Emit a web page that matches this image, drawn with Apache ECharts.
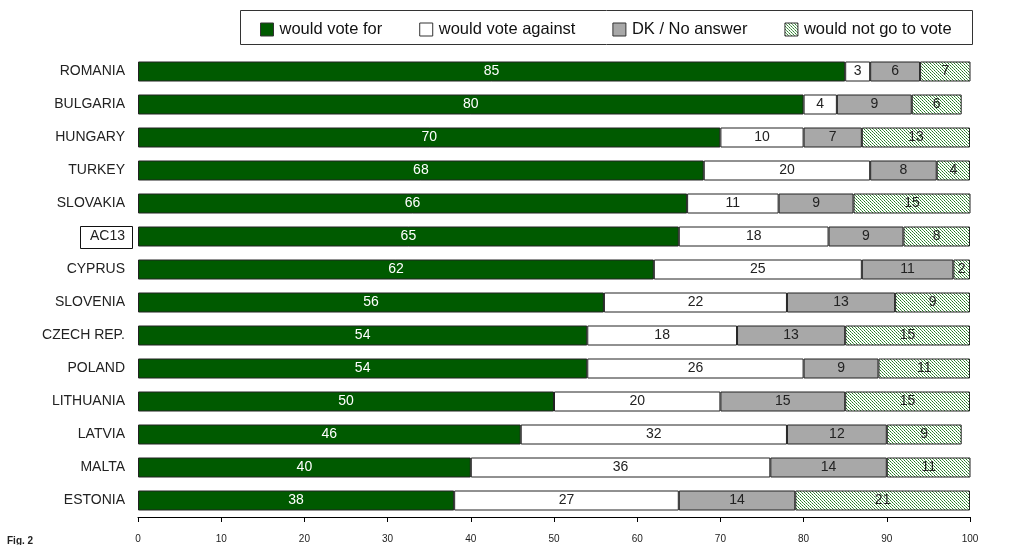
<!DOCTYPE html>
<html>
<head>
<meta charset="utf-8">
<script src="https://cdn.jsdelivr.net/npm/echarts@6/dist/echarts.min.js"></script>
<style>
  html, body { margin: 0; padding: 0; background: #fff; }
  #chart { width: 1012px; height: 545px; }
</style>
</head>
<body>
<div id="chart"></div>
<script>
// Countries, top to bottom
const countries = ['ROMANIA', 'BULGARIA', 'HUNGARY', 'TURKEY', 'SLOVAKIA', 'AC13', 'CYPRUS',
  'SLOVENIA', 'CZECH REP.', 'POLAND', 'LITHUANIA', 'LATVIA', 'MALTA', 'ESTONIA'];

// Shares of respondents (%)
const voteFor     = [85, 80, 70, 68, 66, 65, 62, 56, 54, 54, 50, 46, 40, 38];
const voteAgainst = [3, 4, 10, 20, 11, 18, 25, 22, 18, 26, 20, 32, 36, 27];
const dkNoAnswer  = [6, 9, 7, 8, 9, 9, 11, 13, 13, 9, 15, 12, 14, 14];
const notGoVote   = [7, 6, 13, 4, 15, 8, 2, 9, 15, 11, 15, 9, 11, 21];

const seriesNames = ['would vote for', 'would vote against', 'DK / No answer', 'would not go to vote'];

const FONT = '"Liberation Sans", Arial, sans-serif';

// Dotted diagonal green hatch for the "would not go to vote" segments
function makeHatch() {
  const n = 6;
  const c = document.createElement('canvas');
  c.width = n; c.height = n;
  const g = c.getContext('2d');
  g.fillStyle = '#ffffff';
  g.fillRect(0, 0, n, n);
  for (let y = 0; y < n; y++) {
    for (let x = 0; x < n; x++) {
      if ((x - y + n) % 3 === 0) {
        g.fillStyle = (x % 2 === 0) ? '#1f7a1f' : '#5fa55f';
        g.fillRect(x, y, 1, 1);
      }
    }
  }
  return c;
}
const hatch = { image: makeHatch(), repeat: 'repeat' };

const fills = ['#005a00', '#ffffff', '#a8a8a8', hatch];
const labelColors = ['#ffffff', '#222222', '#222222', '#222222'];
const values = [voteFor, voteAgainst, dkNoAnswer, notGoVote];

const chart = echarts.init(document.getElementById('chart'));

const series = seriesNames.map((name, i) => ({
  name: name,
  type: 'bar',
  stack: 'total',
  barWidth: 20,
  data: values[i],
  itemStyle: { color: fills[i], borderColor: '#222222', borderWidth: 1 },
  label: {
    show: true,
    position: 'inside',
    color: labelColors[i],
    fontFamily: FONT,
    fontSize: 14,
    formatter: '{c}'
  }
}));

chart.setOption({
  animation: false,
  backgroundColor: '#ffffff',
  grid: { left: 138, right: 42, top: 55, bottom: 28 },
  legend: {
    left: 255,
    top: 21,
    padding: [0, 5],
    itemGap: 37,
    itemWidth: 13,
    itemHeight: 13,
    icon: 'rect',
    textStyle: { fontFamily: FONT, fontSize: 16.5, color: '#111', padding: [0, 0, 0, 1] },
    itemStyle: { borderColor: '#333', borderWidth: 1 },
    data: seriesNames
  },
  xAxis: {
    type: 'value',
    min: 0,
    max: 100,
    interval: 10,
    splitLine: { show: false },
    axisLine: { show: true, lineStyle: { color: '#000', width: 1 } },
    axisTick: { show: true, length: 5, lineStyle: { color: '#000' } },
    axisLabel: { fontFamily: FONT, fontSize: 10, color: '#222', margin: 17 }
  },
  yAxis: {
    type: 'category',
    inverse: true,
    data: countries,
    axisLine: { show: false },
    axisTick: { show: false },
    axisLabel: { fontFamily: FONT, fontSize: 14, color: '#222', margin: 13 }
  },
  series: series
});

// Frame round the legend, the box round the AC13 average label, and the figure tag
const acY = chart.convertToPixel({ yAxisIndex: 0 }, 'AC13');
chart.setOption({
  graphic: [
    {
      type: 'rect',
      shape: { x: 240.5, y: 10.5, width: 732, height: 34 },
      style: { fill: 'none', stroke: '#333', lineWidth: 1 },
      silent: true
    },
    {
      type: 'rect',
      shape: { x: 80.5, y: Math.round(acY) - 10.5, width: 52, height: 22 },
      style: { fill: 'none', stroke: '#111', lineWidth: 1 },
      silent: true
    },
    {
      type: 'text',
      left: 7,
      top: 536,
      style: { text: 'Fig. 2', fontFamily: FONT, fontSize: 10, fontWeight: 'bold', fill: '#222' }
    }
  ]
});
</script>
</body>
</html>
